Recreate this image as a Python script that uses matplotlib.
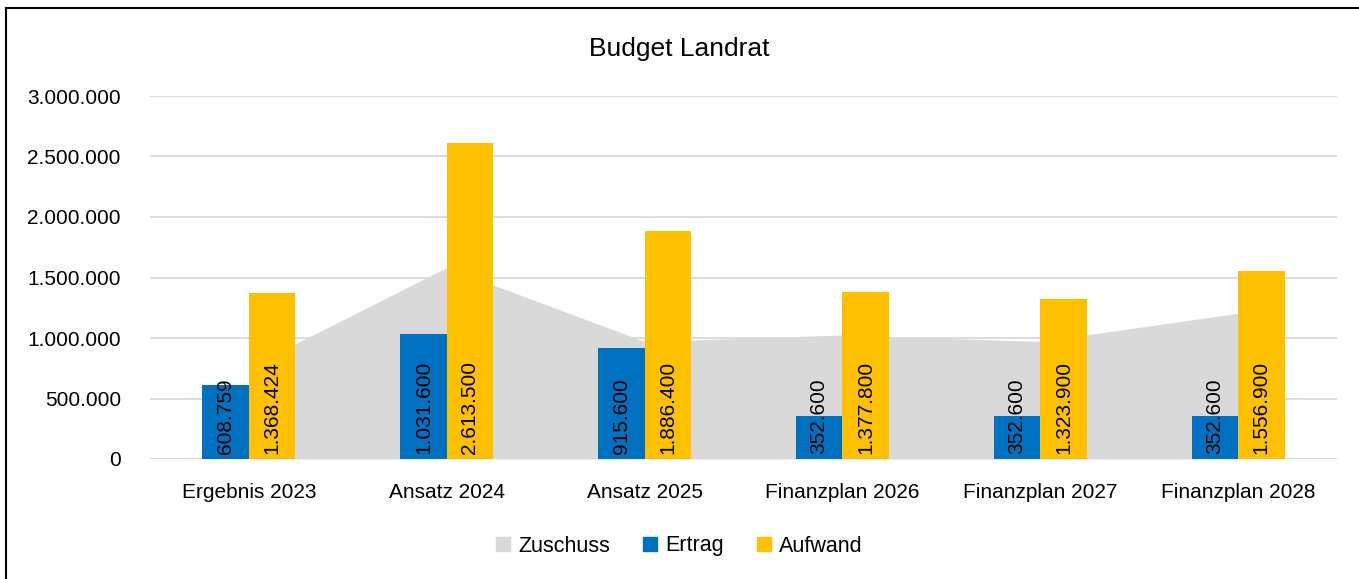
import matplotlib
matplotlib.use("Agg")
import matplotlib.pyplot as plt
import numpy as np
from matplotlib.patches import Patch
from matplotlib.lines import Line2D

plt.rcParams['font.family'] = ['Liberation Sans Narrow', 'DejaVu Sans Condensed', 'Liberation Sans', 'DejaVu Sans']

categories = ["Ergebnis 2023", "Ansatz 2024", "Ansatz 2025",
              "Finanzplan 2026", "Finanzplan 2027", "Finanzplan 2028"]
ertrag = [608759, 1031600, 915600, 352600, 352600, 352600]
aufwand = [1368424, 2613500, 1886400, 1377800, 1323900, 1556900]
zuschuss = [759665, 1581900, 970800, 1025200, 971300, 1204300]


def fmt(v):
    return f"{v:,.0f}".replace(",", ".")


fig = plt.figure(figsize=(13.59, 5.79), dpi=100)
ax = fig.add_axes([150 / 1359, 1 - 459 / 579, 1187 / 1359, 363 / 579])

x = np.arange(len(categories))
w = 0.235

ax.fill_between(x, zuschuss, color="#D9D9D9", zorder=1, linewidth=0)
b1 = ax.bar(x - w / 2, ertrag, w, color="#0070C0", zorder=2)
b2 = ax.bar(x + w / 2, aufwand, w, color="#FFC000", zorder=2)

for bars, vals in ((b1, ertrag), (b2, aufwand)):
    for r, v in zip(bars, vals):
        ax.text(r.get_x() + r.get_width() / 2, 40000, fmt(v), rotation=90,
                ha="center", va="bottom", fontsize=15, color="black", zorder=3)

ax.set_xlim(-0.5, len(categories) - 0.5)
ax.set_ylim(0, 3000000)
ax.set_yticks(np.arange(0, 3000001, 500000))
ax.set_yticklabels([fmt(t) for t in ax.get_yticks()], fontsize=15)
ax.set_xticks(x)
ax.set_xticklabels(categories, fontsize=15)
ax.tick_params(length=0)
ax.tick_params(axis="x", pad=17)
ax.tick_params(axis="y", pad=21)
ax.grid(axis="y", color="#D9D9D9", linewidth=1.3, zorder=0)
ax.set_axisbelow(True)
for s in ax.spines.values():
    s.set_visible(False)
ax.axhline(0, color="#D9D9D9", linewidth=1.3, zorder=0)

fig.text(0.5, 1 - 49 / 579, "Budget Landrat", ha="center", va="center", fontsize=19)

handles = [Patch(color="#D9D9D9", label="Zuschuss"),
           Patch(color="#0070C0", label="Ertrag"),
           Patch(color="#FFC000", label="Aufwand")]
fig.legend(handles=handles, loc="center", bbox_to_anchor=(0.5, 1 - 546 / 579),
           ncol=3, frameon=False, fontsize=15.5, handlelength=0.65, handleheight=0.65,
           handletextpad=0.4, columnspacing=1.5)

# outer frame: only top and left edges are visible in the crop
fig.add_artist(Line2D([6 / 1359, 1], [1 - 8 / 579, 1 - 8 / 579],
                      transform=fig.transFigure, color="black", linewidth=1.5))
fig.add_artist(Line2D([6 / 1359, 6 / 1359], [0, 1 - 8 / 579],
                      transform=fig.transFigure, color="black", linewidth=1.5))

fig.savefig("out.png", dpi=100)
